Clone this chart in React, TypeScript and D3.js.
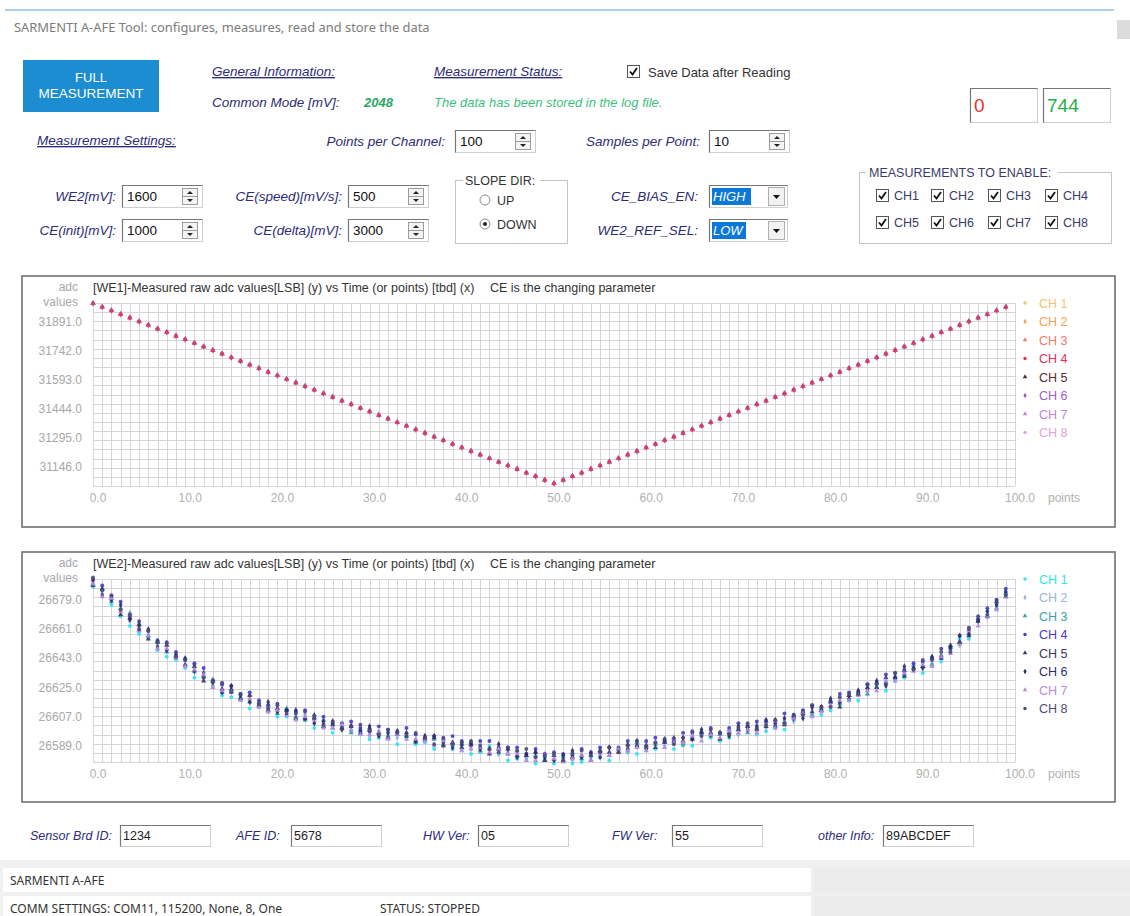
import * as d3 from "d3"

// ---- data ----
const X_TICKS = [0, 10, 20, 30, 40, 50, 60, 70, 80, 90, 100]
const CHANNELS = ["CH 1", "CH 2", "CH 3", "CH 4", "CH 5", "CH 6", "CH 7", "CH 8"]
const ENABLE_ROW1 = ["CH1", "CH2", "CH3", "CH4"]
const ENABLE_ROW2 = ["CH5", "CH6", "CH7", "CH8"]

const WE1_TICKS = [31146, 31295, 31444, 31593, 31742, 31891]
const WE2_TICKS = [26589, 26607, 26625, 26643, 26661, 26679]

// WE1: all eight channels read the same (they overlap in the plot)
const WE1_VALUES = [
  31988, 31969, 31951, 31932, 31914, 31895, 31877, 31858, 31840, 31821,
  31803, 31784, 31766, 31747, 31729, 31710, 31692, 31673, 31655, 31636,
  31618, 31599, 31581, 31562, 31544, 31525, 31507, 31488, 31470, 31451,
  31433, 31414, 31396, 31377, 31359, 31340, 31322, 31303, 31285, 31266,
  31248, 31229, 31211, 31192, 31174, 31155, 31137, 31118, 31100, 31081,
  31063, 31081, 31100, 31118, 31137, 31155, 31174, 31192, 31211, 31229,
  31248, 31266, 31285, 31303, 31322, 31340, 31359, 31377, 31396, 31414,
  31433, 31451, 31470, 31488, 31507, 31525, 31544, 31562, 31581, 31599,
  31618, 31636, 31655, 31673, 31692, 31710, 31729, 31747, 31766, 31784,
  31803, 31821, 31840, 31858, 31877, 31895, 31914, 31932, 31951, 31969,
]

// WE2: centre of the cloud per point, then each channel's spread around it
const WE2_BASE = [
  26689, 26684, 26679, 26673, 26668, 26662, 26657, 26652, 26648, 26644,
  26640, 26636, 26632, 26628, 26624, 26622, 26619, 26617, 26614, 26613,
  26611, 26609, 26607, 26606, 26605, 26603, 26601, 26600, 26599, 26598,
  26597, 26597, 26596, 26595, 26595, 26593, 26593, 26591, 26591, 26590,
  26589, 26588, 26588, 26587, 26586, 26585, 26584, 26583, 26582, 26582,
  26581, 26581, 26582, 26582, 26583, 26584, 26585, 26586, 26587, 26588,
  26589, 26590, 26590, 26591, 26592, 26594, 26595, 26596, 26596, 26597,
  26598, 26599, 26600, 26601, 26602, 26604, 26606, 26608, 26610, 26612,
  26614, 26616, 26619, 26621, 26623, 26626, 26628, 26631, 26634, 26636,
  26638, 26641, 26644, 26648, 26653, 26659, 26665, 26669, 26676, 26682,
]
const WE2_CH1 = [
  -2, 1, -3, -4, -5, -4, -1, -4, -4, -2, -3, -5, -1, -2, -4, -3, 2, -5, -1, -3,
  -4, -2, 3, -1, -5, -2, -4, 1, -1, -2, -4, -3, 2, -5, -1, -3, -2, -4, 1, -3,
  -2, -4, -3, 2, -2, -5, -3, -2, -4, -1, -3, 2, -4, -3, -1, -2, -5, 1, -2, -4,
  -1, -3, 2, -4, -3, -5, 1, -2, -4, -3, -2, 3, -4, -3, -2, -5, -1, 2, -2, -4,
  -3, -1, -2, -4, 3, -1, -5, -2, -3, 1, -4, -2, -3, -1, 2, -4, 1, 3, 1, 2,
]
const WE2_CH2 = [
  1, -1, 2, 0, -2, 3, 1, -1, 0, 2, -1, 1, 0, -2, 2, 1, -1, 0, 3, -2,
  1, 0, -1, 2, -2, 0, 1, -1, 3, 0, -2, 1, 0, -1, 2, -1, 0, 3, -2, 1,
  0, -1, 2, 1, -2, 0, 1, -1, 0, 2, -1, 1, -2, 0, 2, 1, -1, 0, -2, 1,
  2, 0, -1, 1, -2, 2, 0, -1, 1, 0, -2, 1, 2, -1, 0, 1, -2, 0, 2, -1,
  1, 0, -1, 2, -2, 1, 0, -1, 1, 0, 2, -1, 0, 1, -2, 0, 2, -1, 0, 1,
]
const WE2_CH3 = [
  0, 2, -1, 1, 3, -2, 0, 2, -1, 1, 3, -1, 0, 2, -2, 1, 0, -1, 2, 1,
  -2, 3, 0, -1, 1, 2, -1, 0, -2, 1, 2, 0, -1, 3, 0, -2, 1, 2, -1, 0,
  1, 3, -2, 0, 1, -1, 2, 0, 1, -2, 0, 1, 3, -1, 0, 2, -2, 1, 0, 3,
  -1, 0, 2, 1, -2, 0, 3, -1, 0, 2, 1, -2, 0, 3, -1, 0, 2, 1, -2, 0,
  3, -1, 1, 0, -2, 2, 0, 1, -1, 3, 0, -2, 1, 2, 0, -1, 3, 0, -2, 1,
]
const WE2_CH4 = [
  3, 4, 2, 5, 1, 4, 3, 2, 5, 3, 2, 4, 5, 1, 3, 4, 2, 5, 3, 1,
  4, 2, 3, 5, 1, 4, 2, 3, 5, 2, 1, 4, 3, 2, 5, 3, 1, 4, 2, 5,
  3, 1, 4, 5, 2, 3, 4, 1, 5, 2, 4, 3, 1, 5, 2, 4, 3, 2, 5, 1,
  3, 4, 2, 1, 5, 3, 2, 4, 1, 3, 5, 2, 4, 3, 1, 5, 2, 3, 4, 1,
  2, 5, 3, 1, 4, 2, 5, 3, 1, 4, 3, 2, 5, 1, 4, 3, 2, 5, 3, 4,
]
const WE2_CH5 = [
  -1, 2, 1, -3, 0, 2, -2, 1, 3, 0, -1, 2, -3, 1, 0, 2, -1, 3, 0, -2,
  1, 2, -1, 0, 3, -2, 1, 0, 2, -1, 3, 0, -2, 1, 2, -1, 0, 3, -2, 1,
  -1, 2, 0, -3, 1, 2, -1, 0, 3, -2, 2, -1, 0, 1, -3, 2, 0, -1, 3, 1,
  0, -2, 1, 3, 0, -1, 2, 1, -3, 0, 1, 2, -1, 0, 3, -2, 1, 2, 0, -1,
  2, -3, 1, 0, 2, -1, 3, 0, -2, 1, 0, 2, -1, 3, 0, -2, 1, 0, 2, -1,
]
const WE2_CH6 = [
  2, -2, 0, 3, -1, 1, 4, -2, 0, 1, 3, -1, 2, 0, -2, 4, 1, -1, 0, 3,
  -1, 2, 4, 0, -2, 1, 3, -1, 2, 0, 4, -2, 1, 3, 0, -1, 2, 4, 0, -2,
  1, 3, -1, 0, 4, 2, -2, 1, 3, 0, -1, 2, 4, 0, 1, -2, 3, 1, 0, 4,
  -2, 1, 3, 0, 2, -1, 4, 0, 1, -2, 3, 0, 1, 4, -1, 2, 0, -2, 3, 1,
  4, 0, -1, 2, 1, 3, -2, 0, 4, 1, -1, 3, 0, 2, 4, -1, 1, 3, 0, 2,
]
const WE2_CH7 = [
  0, -3, 1, -1, 2, -2, 0, -3, 1, -1, -2, 0, 1, -3, -1, 0, -2, 1, -1, -3,
  0, -1, -2, 1, 0, -3, -1, 2, 0, -2, -1, 0, -3, 1, -2, 0, -1, -2, 1, 0,
  -3, -1, 0, -2, 1, -1, 0, -3, -2, 1, 0, -2, -1, 1, -3, 0, -2, 1, -1, 0,
  -3, 1, -2, 0, -1, 1, -3, 0, -2, 1, -1, 0, -3, 1, -2, -1, 0, 1, -3, -2,
  0, 1, -2, -1, 0, -3, 1, -2, 0, -1, 1, -3, 0, -2, -1, 1, -2, 0, -3, -1,
]
const WE2_CH8 = [
  4, 1, 3, 0, 2, -1, 3, 1, 4, 0, 2, 3, -1, 1, 4, 0, 2, 3, 1, -1,
  3, 0, 2, 4, 1, -1, 3, 0, 2, 4, 1, -1, 3, 2, 0, 4, 1, -1, 3, 0,
  2, 4, 1, 0, -1, 3, 2, 4, 0, 1, 3, -1, 2, 4, 0, 1, 3, -1, 2, 4,
  0, 1, 3, -1, 2, 4, 0, 3, 1, -1, 2, 4, 0, 1, 3, -1, 2, 0, 4, 1,
  -1, 3, 2, 0, 4, 1, -1, 3, 2, 0, 4, 1, 3, -1, 0, 2, 4, 1, 3, 0,
]

// ---- styles ----
const WE1_COLORS = ["#f6bf72", "#f5a24e", "#f07868", "#e0305a", "#5a2a30", "#a05ccc", "#c080e4", "#e2a2dc"]
const WE2_COLORS = ["#2fe2f2", "#98b2dc", "#3aa2a6", "#4a38d0", "#3a3a66", "#2c2c6c", "#b88ae4", "#4c4c74"]
const SYMBOLS = [
  d3.symbolCircle, d3.symbolDiamond, d3.symbolTriangle, d3.symbolCircle,
  d3.symbolTriangle, d3.symbolDiamond, d3.symbolTriangle, d3.symbolCircle,
]
// draw order for the overlapping WE1 channels (red one on top, as in the tool)
const WE1_ORDER = [0, 1, 2, 4, 6, 7, 5, 3]
const WE2_ORDER = [0, 1, 2, 3, 4, 5, 6, 7]

const UI_FONT = "'Liberation Sans', Arial, sans-serif"
const WIN_FONT = "'Noto Sans', 'Open Sans', sans-serif"
const NAVY = "#2c2c78"

function CheckBox({ x, y }: { x: number; y: number }) {
  return (
    <g>
      <rect x={x + 0.5} y={y + 0.5} width={12} height={12} fill="#fff" stroke="#555" />
      <path d={`M${x + 3},${y + 6.5} L${x + 5.5},${y + 9.5} L${x + 10},${y + 3}`} fill="none" stroke="#111" strokeWidth={1.8} />
    </g>
  )
}

function SunkenBox({ x, y, w, h }: { x: number; y: number; w: number; h: number }) {
  return (
    <g>
      <rect x={x + 0.5} y={y + 0.5} width={w} height={h} fill="#fff" stroke="#cfcfcf" />
      <path d={`M${x + 0.5},${y + h + 0.5} V${y + 0.5} H${x + w + 0.5}`} fill="none" stroke="#777" strokeWidth={1.2} />
    </g>
  )
}

function SpinBox({ x, y, value, w = 80, h = 22 }: { x: number; y: number; value: string; w?: number; h?: number }) {
  const bx = x + w - 20
  const mid = y + h / 2
  return (
    <g>
      <SunkenBox x={x} y={y} w={w} h={h} />
      <text x={x + 5} y={y + h / 2 + 5} fontSize={13.5} fill="#111">{value}</text>
      <rect x={bx + 0.5} y={y + 3.5} width={15} height={h - 6} fill="#f4f4f4" stroke="#9c9c9c" />
      <line x1={bx + 1} x2={bx + 15} y1={mid + 0.5} y2={mid + 0.5} stroke="#9c9c9c" />
      <path d={`M${bx + 5},${mid - 2} L${bx + 11},${mid - 2} L${bx + 8},${mid - 5} Z`} fill="#222" />
      <path d={`M${bx + 5},${mid + 3} L${bx + 11},${mid + 3} L${bx + 8},${mid + 6} Z`} fill="#222" />
    </g>
  )
}

function Combo({ x, y, value, hw }: { x: number; y: number; value: string; hw: number }) {
  const w = 78
  const h = 22
  return (
    <g>
      <SunkenBox x={x} y={y} w={w} h={h} />
      <rect x={x + 3} y={y + 3} width={hw} height={h - 5} fill="#0a78d7" />
      <text x={x + 4} y={y + 16} fontSize={13} fontStyle="italic" fill="#fff">{value}</text>
      <rect x={x + w - 18.5} y={y + 2.5} width={16} height={h - 4} fill="#f2f2f2" stroke="#b0b0b0" />
      <path d={`M${x + w - 14},${y + 10} L${x + w - 7},${y + 10} L${x + w - 10.5},${y + 14} Z`} fill="#111" />
    </g>
  )
}

interface PanelProps {
  top: number
  height: number
  title: string
  yTicks: number[]
  yDomain: [number, number]
  series: number[][]
  colors: string[]
  order: number[]
  symbolSize: number
  opacity: number
}

function ScatterPanel({ top, height, title, yTicks, yDomain, series, colors, order, symbolSize, opacity }: PanelProps) {
  const plotTop = top + 27
  const plotBottom = top + 210
  const x = d3.scaleLinear().domain([0, 100]).range([93, 1015])
  const y = d3.scaleLinear().domain(yDomain).range([plotBottom, plotTop])
  const cols = d3.range(0, 101)
  const rows = d3.range(0, 21).map((i) => plotTop + (i * (plotBottom - plotTop)) / 20)
  const legendTop = top + 27

  return (
    <g fontFamily={UI_FONT}>
      <rect x={22} y={top} width={1093} height={height} fill="#fff" stroke="#707070" strokeWidth={1.6} />
      {/* grid */}
      <g stroke="#d6d6d6" strokeWidth={1}>
        {cols.map((c) => (
          <line key={`v${c}`} x1={Math.round(x(c)) + 0.5} x2={Math.round(x(c)) + 0.5} y1={plotTop} y2={plotBottom} />
        ))}
        {rows.map((r, i) => (
          <line key={`h${i}`} x1={x(0)} x2={x(100)} y1={Math.round(r) + 0.5} y2={Math.round(r) + 0.5} />
        ))}
      </g>
      {/* labels */}
      <text x={78} y={top + 15} textAnchor="end" fontSize={12} fill="#a8a8a8">adc</text>
      <text x={78} y={top + 30} textAnchor="end" fontSize={12} fill="#a8a8a8">values</text>
      <text x={93} y={top + 16} fontSize={12.5} fill="#333">{title}</text>
      <text x={490} y={top + 16} fontSize={12.5} fill="#333">CE is the changing parameter</text>
      {yTicks.map((t) => (
        <text key={t} x={82} y={y(t) + 4} textAnchor="end" fontSize={12} fill="#a8a8a8">
          {t.toFixed(1)}
        </text>
      ))}
      {X_TICKS.map((t) => (
        <text key={t} x={x(t) + 5} y={top + 226} textAnchor="middle" fontSize={12} fill="#b0b0b0">
          {t.toFixed(1)}
        </text>
      ))}
      <text x={1048} y={top + 226} fontSize={12} fill="#b0b0b0">points</text>
      {/* points */}
      {order.map((ci) => {
        const path = d3.symbol().type(SYMBOLS[ci]).size(symbolSize)() as string
        return (
          <g key={ci} fill={colors[ci]} opacity={opacity}>
            {series[ci].map((v, i) => (
              <path key={i} d={path} transform={`translate(${x(i)},${y(v)})`} />
            ))}
          </g>
        )
      })}
      {/* legend */}
      {CHANNELS.map((name, ci) => {
        const ly = legendTop + ci * 18.5
        const path = d3.symbol().type(SYMBOLS[ci]).size(9)() as string
        return (
          <g key={name}>
            <path d={path} transform={`translate(1025,${ly})`} fill={colors[ci]} />
            <text x={1039} y={ly + 4.5} fontSize={12.5} fill={colors[ci]}>{name}</text>
          </g>
        )
      })}
    </g>
  )
}

export default function App() {
  const we1Series = CHANNELS.map(() => WE1_VALUES)
  const we2Series = [WE2_CH1, WE2_CH2, WE2_CH3, WE2_CH4, WE2_CH5, WE2_CH6, WE2_CH7, WE2_CH8].map((dev) =>
    WE2_BASE.map((b, i) => b + dev[i]),
  )

  const footer = [
    { label: "Sensor Brd ID:", lx: 30, bx: 120, value: "1234" },
    { label: "AFE ID:", lx: 236, bx: 291, value: "5678" },
    { label: "HW Ver:", lx: 423, bx: 478, value: "05" },
    { label: "FW Ver:", lx: 612, bx: 672, value: "55" },
    { label: "other Info:", lx: 818, bx: 883, value: "89ABCDEF" },
  ]

  return (
    <svg width={1130} height={916} style={{ position: "absolute", left: 0, top: 0, display: "block" }} fontFamily={UI_FONT}>
      <rect width={1130} height={916} fill="#fff" />
      {/* window top strip */}
      <line x1={5} x2={1114} y1={10} y2={10} stroke="#8cc2e6" strokeWidth={1.5} />
      <rect x={1117} y={20} width={13} height={19} fill="#dcdcdc" />
      <text x={14} y={32} fontFamily={WIN_FONT} fontSize={12.9} fill="#7c7c7c">
        SARMENTI A-AFE Tool: configures, measures, read and store the data
      </text>

      {/* button */}
      <rect x={23} y={60} width={136} height={52} fill="#1c8dd0" />
      <text x={91} y={82} textAnchor="middle" fontSize={13} fill="#fff">FULL</text>
      <text x={91} y={98} textAnchor="middle" fontSize={13.5} fill="#fff">MEASUREMENT</text>

      {/* general info / status */}
      <g fontStyle="italic" fontSize={13.5} fill={NAVY}>
        <text x={212} y={76} textDecoration="underline">General Information:</text>
        <text x={212} y={107}>Common Mode [mV]:</text>
        <text x={434} y={76} textDecoration="underline">Measurement Status:</text>
        <text x={37} y={145} textDecoration="underline">Measurement Settings:</text>
      </g>
      <text x={364} y={107} fontStyle="italic" fontWeight="bold" fontSize={13} fill="#2aa862">2048</text>
      <text x={434} y={107} fontStyle="italic" fontSize={13} fill="#3cbf7c">The data has been stored in the log file.</text>
      <CheckBox x={627} y={65} />
      <text x={648} y={77} fontSize={13} fill="#333">Save Data after Reading</text>

      <SunkenBox x={970} y={88} w={67} h={34} />
      <text x={974} y={112} fontSize={19} fill="#e83232">0</text>
      <SunkenBox x={1043} y={88} w={67} h={34} />
      <text x={1047} y={112} fontSize={19} fill="#22b044">744</text>

      {/* settings */}
      <g fontStyle="italic" fontSize={13.5} fill={NAVY} textAnchor="end">
        <text x={445} y={146}>Points per Channel:</text>
        <text x={700} y={146}>Samples per Point:</text>
        <text x={116} y={201}>WE2[mV]:</text>
        <text x={342} y={201}>CE(speed)[mV/s]:</text>
        <text x={116} y={235}>CE(init)[mV]:</text>
        <text x={342} y={235}>CE(delta)[mV]:</text>
        <text x={698} y={201}>CE_BIAS_EN:</text>
        <text x={698} y={235}>WE2_REF_SEL:</text>
      </g>
      <SpinBox x={455} y={130} value="100" />
      <SpinBox x={709} y={130} value="10" />
      <SpinBox x={122} y={185} value="1600" />
      <SpinBox x={348} y={185} value="500" />
      <SpinBox x={122} y={219} value="1000" />
      <SpinBox x={348} y={219} value="3000" />
      <Combo x={709} y={185} value="HIGH" hw={39} />
      <Combo x={709} y={219} value="LOW" hw={34} />

      {/* slope dir group */}
      <rect x={455.5} y={180.5} width={112} height={63} fill="none" stroke="#c4c4c4" />
      <rect x={463} y={172} width={77} height={16} fill="#fff" />
      <text x={465} y={185} fontSize={12.5} fill="#333">SLOPE DIR:</text>
      <circle cx={485} cy={200} r={5} fill="#fff" stroke="#8a8a8a" />
      <text x={497} y={205} fontSize={12.5} fill="#333">UP</text>
      <circle cx={485} cy={224} r={5} fill="#fff" stroke="#8a8a8a" />
      <circle cx={485} cy={224} r={2} fill="#222" />
      <text x={497} y={229} fontSize={12.5} fill="#333">DOWN</text>

      {/* enable group */}
      <rect x={859.5} y={172.5} width={252} height={71} fill="none" stroke="#c4c4c4" />
      <rect x={866} y={164} width={192} height={16} fill="#fff" />
      <text x={869} y={177} fontSize={12.5} fill="#3a3a6a">MEASUREMENTS TO ENABLE:</text>
      {[ENABLE_ROW1, ENABLE_ROW2].map((row, ri) =>
        row.map((name, i) => {
          const bx = [876, 931, 988, 1045][i]
          const by = ri === 0 ? 189 : 216
          return (
            <g key={name}>
              <CheckBox x={bx} y={by} />
              <text x={bx + 18} y={by + 11} fontSize={12.5} fill="#3a3a6a">{name}</text>
            </g>
          )
        }),
      )}

      {/* charts */}
      <ScatterPanel
        top={276}
        height={251}
        title="[WE1]-Measured raw adc values[LSB] (y) vs Time (or points) [tbd] (x)"
        yTicks={WE1_TICKS}
        yDomain={[31050, 31990]}
        series={we1Series}
        colors={WE1_COLORS}
        order={WE1_ORDER}
        symbolSize={12}
        opacity={0.8}
      />
      <ScatterPanel
        top={552}
        height={250}
        title="[WE2]-Measured raw adc values[LSB] (y) vs Time (or points) [tbd] (x)"
        yTicks={WE2_TICKS}
        yDomain={[26579, 26692]}
        series={we2Series}
        colors={WE2_COLORS}
        order={WE2_ORDER}
        symbolSize={12}
        opacity={0.9}
      />

      {/* footer ids */}
      {footer.map((f) => (
        <g key={f.label}>
          <text x={f.lx} y={840} fontStyle="italic" fontSize={12.5} fill={NAVY}>{f.label}</text>
          <SunkenBox x={f.bx} y={825} w={90} h={21} />
          <text x={f.bx + 3} y={840} fontSize={12.5} fill="#222">{f.value}</text>
        </g>
      ))}

      {/* status bar */}
      <rect x={0} y={860} width={1130} height={56} fill="#f0f0f0" />
      <rect x={3} y={868} width={808} height={24} fill="#fff" />
      <rect x={3} y={896} width={808} height={20} fill="#fff" />
      <rect x={814} y={868} width={316} height={24} fill="#ececec" />
      <rect x={814} y={896} width={316} height={20} fill="#ececec" />
      <text x={10} y={885} fontFamily={WIN_FONT} fontSize={12} fill="#333">SARMENTI A-AFE</text>
      <text x={10} y={913} fontFamily={WIN_FONT} fontSize={12} fill="#333">COMM SETTINGS: COM11, 115200, None, 8, One</text>
      <text x={380} y={913} fontFamily={WIN_FONT} fontSize={12} fill="#333">STATUS: STOPPED</text>
    </svg>
  )
}
